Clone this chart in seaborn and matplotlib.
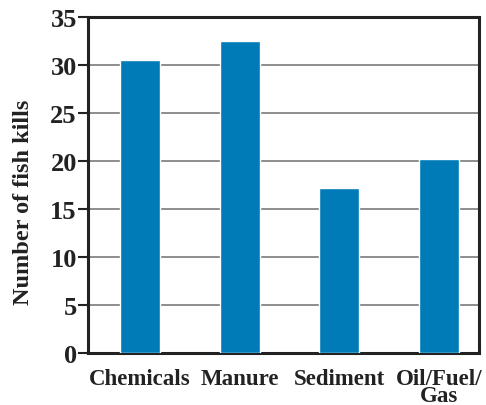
import matplotlib
matplotlib.use("Agg")
import matplotlib.pyplot as plt
import seaborn as sns
import pandas as pd

categories = ["Chemicals", "Manure", "Sediment", "Oil/Fuel/\nGas"]
values = [30.5, 32.5, 17.2, 20.2]
yticks = [0, 5, 10, 15, 20, 25, 30, 35]

sns.set_theme(style="white")
plt.rcParams['font.family'] = ['Liberation Serif', 'DejaVu Serif']
plt.rcParams['font.weight'] = 'bold'

df = pd.DataFrame({"cat": categories, "val": values})

fig = plt.figure(figsize=(4.86, 4.06), dpi=100)
ax = fig.add_axes([0.181, 0.128, 0.8046, 0.8277])
sns.barplot(data=df, x="cat", y="val", color="#007BB8", saturation=1,
            width=0.4, ax=ax, zorder=3)
ax.set_xlim(-0.52, 3.4)
ax.set_ylim(0, 35)
ax.set_yticks(yticks)
ax.yaxis.grid(True, color="#7a7a7a", linewidth=1.2, zorder=0)
ax.set_axisbelow(True)
for s in ax.spines.values():
    s.set_visible(True)
    s.set_color("#222222")
    s.set_linewidth(2.2)
ax.tick_params(axis="y", left=True, length=7, width=1.5, color="#222222",
               labelsize=19, pad=1)
ax.tick_params(axis="x", bottom=False, labelsize=16.5, pad=5)
for lab in ax.get_xticklabels() + ax.get_yticklabels():
    lab.set_fontweight("bold")
    lab.set_color("#222222")
for lab in ax.get_xticklabels():
    lab.set_linespacing(0.75)
ax.set_xlabel("")
ax.set_ylabel("Number of fish kills", fontsize=17.5, fontweight="bold",
              color="#222222")
ax.yaxis.set_label_coords(-0.138, 0.452)
fig.savefig("out.png", dpi=100)
